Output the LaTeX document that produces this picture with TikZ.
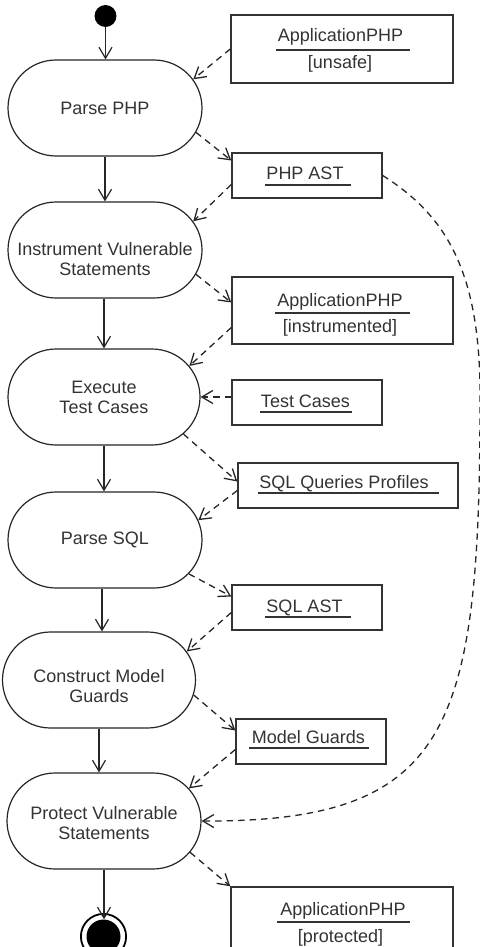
\documentclass[tikz,border=0pt]{standalone}
\usepackage{fontspec}
\setmainfont{Liberation Sans}
\usetikzlibrary{arrows.meta,shapes.misc,calc}
\begin{document}
\begin{tikzpicture}[x=1pt,y=-1pt,
  every node/.style={font=\fontsize{18}{20}\selectfont, text=black!80},
  state/.style={draw=black!85, line width=1.2pt, rounded rectangle, minimum width=194pt, minimum height=96pt, inner sep=0pt},
  obj/.style={draw=black!80, line width=1.4pt, rectangle, inner sep=0pt},
  lbl/.style={align=center, inner sep=0pt},
  otxt/.style={anchor=base, inner sep=0pt},
  uline/.style={draw=black!80, line width=1.3pt},
  flow/.style={-{Straight Barb[length=11pt,width=13pt]}, line width=1.2pt, draw=black!85},
  dep/.style={flow, line width=1.3pt, dash pattern=on 6.5pt off 5pt}
]
\fill[white] (0,0) rectangle (479,947);
\useasboundingbox (0,0) rectangle (479,947);

% start / end
\node[circle, fill=black, minimum size=22pt, inner sep=0pt] (start) at (105.5,16) {};
\node[circle, fill=black, minimum size=34pt, inner sep=0pt] (end) at (103.5,936.5) {};
\draw[black, line width=1.8pt] (end.center) circle[radius=22.6pt];

% states
\node[state] (s1) at (105,108) {};
\node[lbl] at (s1) {Parse PHP};
\node[state] (s2) at (105,250) {};
\node[lbl] at ([yshift=-9pt]s2.center) {Instrument Vulnerable\\Statements};
\node[state, minimum width=192pt] (s3) at (104,397) {};
\node[lbl] at (s3) {Execute\\Test Cases};
\node[state] (s4) at (105,540) {};
\node[lbl] at (s4) {Parse SQL};
\node[state, minimum width=193pt] (s5) at (99,680) {};
\node[lbl] at ([yshift=-6pt]s5.center) {Construct Model\\Guards};
\node[state] (s6) at (104,821) {};
\node[lbl] at ([yshift=-2pt]s6.center) {Protect Vulnerable\\Statements};

% objects
\node[obj, minimum width=222pt, minimum height=68pt] (o1) at (342,49) {};
\node[otxt] (t1) at (340.5,42) {ApplicationPHP};
\draw[uline] ([xshift=-2pt,yshift=-8pt]t1.base west) -- ([xshift=7pt,yshift=-8pt]t1.base east);
\node[otxt] at (340,69) {[unsafe]};

\node[obj, minimum width=150pt, minimum height=45pt] (o2) at (307,175.5) {};
\node[otxt] (t2) at (305,179) {PHP AST};
\draw[uline] ([xshift=-1pt,yshift=-6pt]t2.base west) -- ([xshift=7pt,yshift=-6pt]t2.base east);

\node[obj, minimum width=221pt, minimum height=67pt] (o3) at (342.5,310.5) {};
\node[otxt] (t3) at (340,306) {ApplicationPHP};
\draw[uline] ([xshift=-2pt,yshift=-7pt]t3.base west) -- ([xshift=7pt,yshift=-7pt]t3.base east);
\node[otxt] at (340,332) {[instrumented]};

\node[obj, minimum width=150pt, minimum height=45pt] (o4) at (307,402.5) {};
\node[otxt] (t4) at (305.5,407) {Test Cases};
\draw[uline] ([xshift=-1pt,yshift=-5pt]t4.base west) -- ([xshift=2pt,yshift=-5pt]t4.base east);

\node[obj, minimum width=220pt, minimum height=45pt] (o5) at (348,485.5) {};
\node[otxt] (t5) at (344,488) {SQL Queries Profiles};
\draw[uline] ([xshift=-1pt,yshift=-5pt]t5.base west) -- ([xshift=10pt,yshift=-5pt]t5.base east);

\node[obj, minimum width=150pt, minimum height=45pt] (o6) at (307,607.5) {};
\node[otxt] (t6) at (304.5,612) {SQL AST};
\draw[uline] ([xshift=-1pt,yshift=-5pt]t6.base west) -- ([xshift=8pt,yshift=-5pt]t6.base east);

\node[obj, minimum width=150pt, minimum height=45pt] (o7) at (311,741.5) {};
\node[otxt] (t7) at (308.5,743) {Model Guards};
\draw[uline] ([xshift=-3pt,yshift=-5pt]t7.base west) -- ([xshift=4pt,yshift=-5pt]t7.base east);

\node[obj, minimum width=222pt, minimum height=68pt] (o8) at (342,921) {};
\node[otxt] (t8) at (343,915) {ApplicationPHP};
\draw[uline] ([xshift=-3pt,yshift=-7pt]t8.base west) -- ([xshift=4pt,yshift=-7pt]t8.base east);
\node[otxt] at (340.5,942) {[protected]};

% control flow
\draw[flow] (start.south) -- (start.south |- s1.north);
\draw[flow] (s1.south) -- (s1.south |- s2.north);
\draw[flow] ([xshift=-1pt]s2.south) -- ([xshift=-1pt]s2.south |- s3.north);
\draw[flow] (s3.south) -- (s3.south |- s4.north);
\draw[flow] ([xshift=-3pt]s4.south) -- ([xshift=-3pt]s4.south |- s5.north);
\draw[flow] (s5.south) -- (s5.south |- s6.north);
\draw[flow] (s6.south) -- (s6.south |- end.north);

% object flow
\draw[dep] (o1.west) -- (s1.18);
\draw[dep] (s1.-15) -- ([yshift=15pt]o2.west);
\draw[dep] ([yshift=-9pt]o2.west) -- (s2.18);
\draw[dep] (s2.-15) -- ([yshift=8pt]o3.west);
\draw[dep] ([yshift=-17pt]o3.west) -- (s3.20);
\draw[dep] (s3.east -| o4.west) -- (s3.east);
\draw[dep] (s3.-25) -- ([yshift=4pt]o5.west);
\draw[dep] ([yshift=-5pt]o5.west) -- (s4.12);
\draw[dep] (s4.-22) -- ([yshift=11pt]o6.west);
\draw[dep] ([yshift=-5pt]o6.west) -- (s5.18);
\draw[dep] (s5.-9) -- ([yshift=11pt]o7.west);
\draw[dep] ([yshift=-8pt]o7.west) -- (s6.21);
\draw[dep] (s6.-20) -- (o8.north west);
\draw[dep] (o2.east) .. controls (445,215) and (481,270) .. (480,400)
  .. controls (480,730) and (450,822) .. (s6.east);
\end{tikzpicture}
\end{document}
